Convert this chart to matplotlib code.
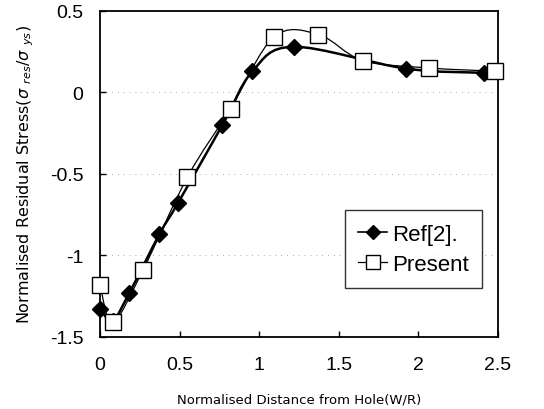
import matplotlib
matplotlib.use("Agg")
import matplotlib.pyplot as plt
from matplotlib.path import Path
from matplotlib.patches import PathPatch
from matplotlib.lines import Line2D
import numpy as np

# 데이터
ref_x = [0.0, 0.08, 0.184, 0.373, 0.489, 0.769, 0.958, 1.218, 1.922, 2.415]
ref_y = [-1.33, -1.40, -1.23, -0.87, -0.68, -0.20, 0.13, 0.28, 0.146, 0.12]

present_x = [0.0, 0.08, 0.27, 0.549, 0.82, 1.093, 1.373, 1.652, 2.065, 2.482]
present_y = [-1.18, -1.41, -1.09, -0.52, -0.10, 0.34, 0.355, 0.195, 0.15, 0.13]

x_ticks = [0, 0.5, 1, 1.5, 2, 2.5]
x_labels = ["0", "0.5", "1", "1.5", "2", "2.5"]
y_ticks = [-1.5, -1, -0.5, 0, 0.5]
y_labels = ["-1.5", "-1", "-0.5", "0", "0.5"]


def smooth_path(xs, ys):
    # Excel 스타일 부드러운 선 (Catmull-Rom -> Bezier)
    p = np.column_stack([xs, ys])
    n = len(p)
    verts = [p[0]]
    codes = [Path.MOVETO]
    for i in range(n - 1):
        p0 = p[i - 1] if i > 0 else p[i]
        p3 = p[i + 2] if i + 2 < n else p[i + 1]
        c1 = p[i] + (p[i + 1] - p0) / 6.0
        c2 = p[i + 1] - (p3 - p[i]) / 6.0
        verts += [c1, c2, p[i + 1]]
        codes += [Path.CURVE4] * 3
    return Path(verts, codes)


plt.rcParams["font.family"] = ["Liberation Sans", "DejaVu Sans"]

fig = plt.figure(figsize=(5.44, 4.10), dpi=100)
ax = fig.add_axes([0.184, 0.176, 0.731, 0.795])

ax.add_patch(PathPatch(smooth_path(ref_x, ref_y), fill=False, ec="black", lw=1.8, zorder=2))
ax.add_patch(PathPatch(smooth_path(present_x, present_y), fill=False, ec="black", lw=0.9, zorder=3))

ax.plot(ref_x, ref_y, linestyle="none", marker="D", ms=8, color="black", zorder=4, clip_on=False)
ax.plot(present_x, present_y, linestyle="none", marker="s", ms=11,
        mfc="white", mec="black", mew=1.0, zorder=5, clip_on=False)

ax.set_xlim(0, 2.5)
ax.set_ylim(-1.5, 0.5)
ax.set_xticks(x_ticks)
ax.set_xticklabels(x_labels)
ax.set_yticks(y_ticks)
ax.set_yticklabels(y_labels)
ax.tick_params(direction="in", labelsize=14, length=4, width=1)
ax.tick_params(axis="x", pad=14)
ax.tick_params(axis="y", pad=12)

for y in [-1, -0.5, 0]:
    ax.axhline(y, color="0.55", lw=0.6, ls=(0, (1, 6)), zorder=1)

for s in ax.spines.values():
    s.set_linewidth(1.3)

ax.set_xlabel("Normalised Distance from Hole(W/R)", fontsize=9.5, family="DejaVu Sans", labelpad=14)
ax.set_ylabel(r"Normalised Residual Stress($\sigma$ $_{res}$/$\sigma$ $_{ys}$)",
              fontsize=11.5, family="DejaVu Sans", labelpad=10)

handles = [
    Line2D([], [], color="black", lw=1.2, marker="D", ms=7),
    Line2D([], [], color="black", lw=0.9, marker="s", ms=10, mfc="white", mec="black"),
]
leg = ax.legend(handles, ["Ref[2].", "Present"], loc="lower right",
                bbox_to_anchor=(0.96, 0.15), fontsize=16, frameon=True, fancybox=False,
                edgecolor="black", handlelength=1.3, handletextpad=0.2,
                borderpad=0.6, labelspacing=0.4, borderaxespad=0)
leg.get_frame().set_linewidth(1.0)

plt.savefig("out.png", dpi=100)
